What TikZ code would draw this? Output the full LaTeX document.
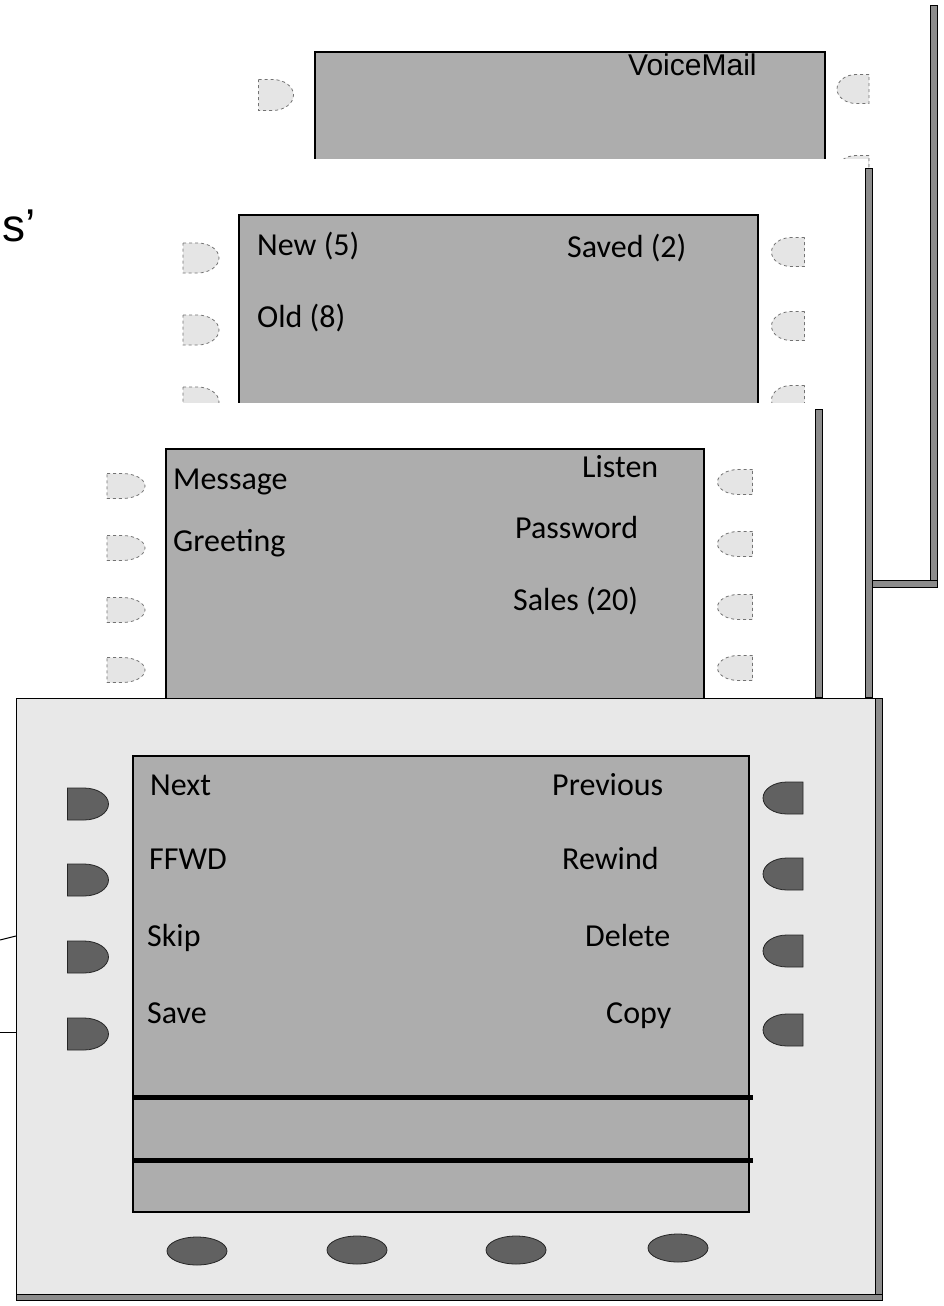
\documentclass[tikz,border=0pt]{standalone}
\usepackage{fontspec}
\newfontfamily\calfont{Carlito}
\newfontfamily\arfont{Liberation Sans}
\newcommand{\leftbtn}[5]{\draw[#5] (#1,#2) ++(-#3/2,-#4/2) -- ++(#3*0.4,0) arc[start angle=-90,end angle=90,x radius=#3*0.6,y radius=#4/2] -- ++(-#3*0.4,0) -- cycle;}
\newcommand{\rightbtn}[5]{\draw[#5] (#1,#2) ++(#3/2,-#4/2) -- ++(-#3*0.4,0) arc[start angle=-90,end angle=-270,x radius=#3*0.6,y radius=#4/2] -- ++(#3*0.4,0) -- cycle;}
\tikzset{
  screen/.style={fill=black!32, draw=black, line width=1.5pt},
  cardbg/.style={fill=white, draw=none},
  bar/.style={fill=black!45, draw=black, line width=0.8pt},
  fadebtn/.style={fill=black!10, draw=black!55, dashed, line width=0.8pt},
  darkbtn/.style={fill=black!62, draw=black!85, line width=0.8pt},
  lbl/.style={inner sep=0pt, anchor=base west, font=\calfont\fontsize{32}{32}\selectfont},
  sepline/.style={line width=5pt, draw=black},
  edge/.style={draw=black, line width=1pt}
}
\begin{document}
\begin{tikzpicture}[x=1pt,y=-1pt]
\useasboundingbox (0,0) rectangle (943,1306);
\fill[white] (0,0) rectangle (943,1306);
% ---------- card 1 (VoiceMail) ----------
\draw[screen] (315,52) rectangle (825,200);
\node[inner sep=0pt, anchor=base west, font=\arfont\fontsize{30}{30}\selectfont] (voicemail) at (628,75) {VoiceMail};
\leftbtn{276}{95}{35}{31}{fadebtn}
\leftbtn{276}{176}{35}{31}{fadebtn}
\rightbtn{853}{89}{32}{29}{fadebtn}
\rightbtn{853}{170}{32}{29}{fadebtn}
\draw[bar] (930,5) rectangle (937,587);
\draw[bar] (860,580) rectangle (937,587);
% ---------- card 2 (New / Saved) ----------
\fill[cardbg] (150,159) rectangle (868,697);
\draw[bar] (865,168) rectangle (872,697);
\draw[screen] (239,215) rectangle (758,420);
\node[lbl] (new) at (257,255) {New (5)};
\node[lbl] (saved) at (567,257) {Saved (2)};
\node[lbl] (old) at (257,327) {Old (8)};
\leftbtn{201}{258}{36}{30}{fadebtn}
\leftbtn{201}{330}{36}{30}{fadebtn}
\leftbtn{201}{402}{36}{30}{fadebtn}
\rightbtn{788}{252}{33}{29}{fadebtn}
\rightbtn{788}{326}{33}{29}{fadebtn}
\rightbtn{788}{400}{33}{29}{fadebtn}
% ---------- card 3 (Message / Listen) ----------
\fill[cardbg] (60,403) rectangle (819,697);
\draw[bar] (815,409) rectangle (822,697);
\draw[screen] (166,449) rectangle (704,720);
\node[lbl] (message) at (173,489) {Message};
\node[lbl] (greeting) at (173,551) {Greeting};
\node[lbl] (listen) at (582,477) {Listen};
\node[lbl] (password) at (515,538) {Password};
\node[lbl] (sales) at (513,610) {Sales (20)};
\leftbtn{126}{486}{38}{25}{fadebtn}
\leftbtn{126}{548}{38}{25}{fadebtn}
\leftbtn{126}{610}{38}{25}{fadebtn}
\leftbtn{126}{670}{38}{25}{fadebtn}
\rightbtn{735}{482}{35}{25}{fadebtn}
\rightbtn{735}{544}{35}{25}{fadebtn}
\rightbtn{735}{607}{35}{25}{fadebtn}
\rightbtn{735}{668}{35}{25}{fadebtn}
% ---------- card 4 (front) ----------
\fill[black!9] (16,698) rectangle (879,1297);
\draw[edge] (16,1297) -- (16,698) -- (879,698);
\draw[bar] (875,698) rectangle (882,1300);
\draw[bar] (16,1294) rectangle (882,1300);
\draw[screen] (133,756) rectangle (749,1212);
\draw[sepline] (133,1097) -- (753,1097);
\draw[sepline] (133,1160) -- (753,1160);
\node[lbl] (next) at (150,795) {Next};
\node[lbl] (ffwd) at (149,869) {FFWD};
\node[lbl] (skip) at (147,946) {Skip};
\node[lbl] (save) at (147,1023) {Save};
\node[lbl] (previous) at (552,795) {Previous};
\node[lbl] (rewind) at (562,869) {Rewind};
\node[lbl] (delete) at (585,946) {Delete};
\node[lbl] (copy) at (606,1023) {Copy};
\leftbtn{88}{804}{41}{32}{darkbtn}
\leftbtn{88}{880}{41}{32}{darkbtn}
\leftbtn{88}{957}{41}{32}{darkbtn}
\leftbtn{88}{1034}{41}{32}{darkbtn}
\rightbtn{783}{798}{40}{32}{darkbtn}
\rightbtn{783}{874}{40}{32}{darkbtn}
\rightbtn{783}{951}{40}{32}{darkbtn}
\rightbtn{783}{1030}{40}{32}{darkbtn}
\foreach \bx/\by in {197/1251, 357/1250, 516/1250, 678/1248}
  \draw[darkbtn] (\bx,\by) ellipse [x radius=30, y radius=14];
% ---------- leader lines and label ----------
\coordinate (la) at (0,940);
\coordinate (lb) at (16,936);
\coordinate (lc) at (0,1032);
\coordinate (ld) at (16,1032);
\draw[edge] (la) -- (lb);
\draw[edge] (lc) -- (ld);
\node[inner sep=0pt, anchor=base west, font=\arfont\fontsize{46}{46}\selectfont] (sprime) at (2,241) {s’};
\end{tikzpicture}
\end{document}
